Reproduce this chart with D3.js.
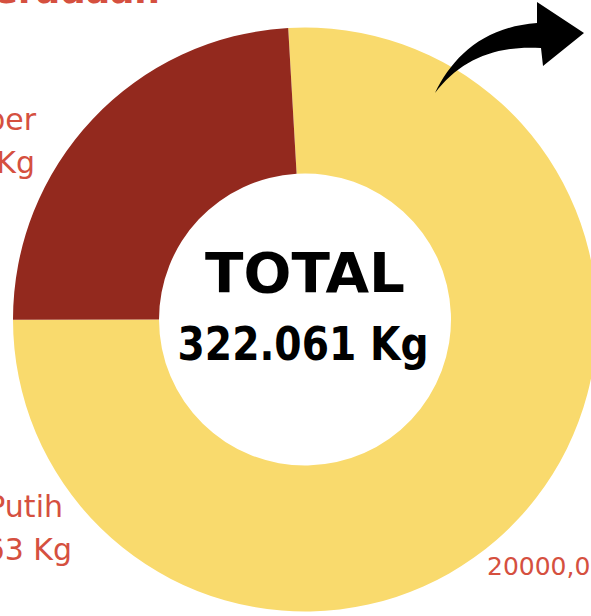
<!DOCTYPE html>
<html>
<head>
<meta charset="utf-8">
<script src="https://cdn.jsdelivr.net/npm/d3@7"></script>
<style>
html,body{margin:0;padding:0;background:#fff;overflow:hidden;}
svg{display:block;}
</style>
</head>
<body>
<svg id="chart" width="591" height="616"></svg>
<script>
// ---- data ----
const categories = ["Beras Putih", "Beras Super"];
const values = [244.463, 77.598];
const valueLabels = ["244.463 Kg", "77.598 Kg"];
const totalLabel = "TOTAL";
const totalValue = "322.061 Kg";
const titleText = "Keberadaan";
const axisTickLabel = "20000,00";
const colors = ["#F9DA6D", "#93291E"];

const svg = d3.select("#chart");
const cx = 305, cy = 319.5, R = 292, r = 146;
const startDeg = -3.3;

const pie = d3.pie().sort(null).value(d => d)
  .startAngle(startDeg * Math.PI / 180)
  .endAngle(startDeg * Math.PI / 180 + 2 * Math.PI);
const arc = d3.arc().innerRadius(r).outerRadius(R);

const g = svg.append("g").attr("transform", `translate(${cx},${cy})`);
g.selectAll("path.slice").data(pie(values)).join("path")
  .attr("class", "slice")
  .attr("d", arc)
  .attr("fill", (d, i) => colors[i]);

// center text
const font = "'DejaVu Sans', sans-serif";
g.append("text").text(totalLabel)
  .attr("x", 0).attr("y", -28)
  .attr("text-anchor", "middle")
  .attr("font-family", font).attr("font-weight", "bold")
  .attr("font-size", 55)
  .attr("textLength", 200).attr("lengthAdjust", "spacingAndGlyphs")
  .attr("fill", "#000");
g.append("text").text(totalValue)
  .attr("x", -2).attr("y", 40.5)
  .attr("text-anchor", "middle")
  .attr("font-family", font).attr("font-weight", "bold")
  .attr("font-size", 47)
  .attr("textLength", 251).attr("lengthAdjust", "spacingAndGlyphs")
  .attr("fill", "#000");

// outside labels (partly cut off at the left edge, as in the reference)
const labelColor = "#D5503F";
const lblFont = "'DejaVu Sans', sans-serif";
const labelPos = [
  {x1: 63, y1: 517, x2: 72, y2: 560},
  {x1: 36, y1: 130, x2: 35, y2: 173}
];
labelPos.forEach((p, i) => {
  svg.append("text").text(categories[i])
    .attr("x", p.x1).attr("y", p.y1).attr("text-anchor", "end")
    .attr("font-family", lblFont).attr("font-size", 30)
    .attr("fill", labelColor);
  svg.append("text").text(valueLabels[i])
    .attr("x", p.x2).attr("y", p.y2).attr("text-anchor", "end")
    .attr("font-family", lblFont).attr("font-size", 30)
    .attr("fill", labelColor);
});

// value label bottom right (cut off at the right edge)
svg.append("text").text(axisTickLabel)
  .attr("x", 487).attr("y", 575)
  .attr("font-family", lblFont).attr("font-size", 25)
  .attr("fill", labelColor);

// title (mostly cut off at top)
svg.append("text").text(titleText)
  .attr("x", 160).attr("y", 3).attr("text-anchor", "end")
  .attr("font-family", lblFont).attr("font-weight", "bold").attr("font-size", 36)
  .attr("fill", labelColor);

// decorative arrow
svg.append("path")
  .attr("d", "M435,93 C452,58 482,27 537,23 L537,2 L584,33 L543,66 L541,48 C495,45 460,60 435,93 Z")
  .attr("fill", "#000");
</script>
</body>
</html>
